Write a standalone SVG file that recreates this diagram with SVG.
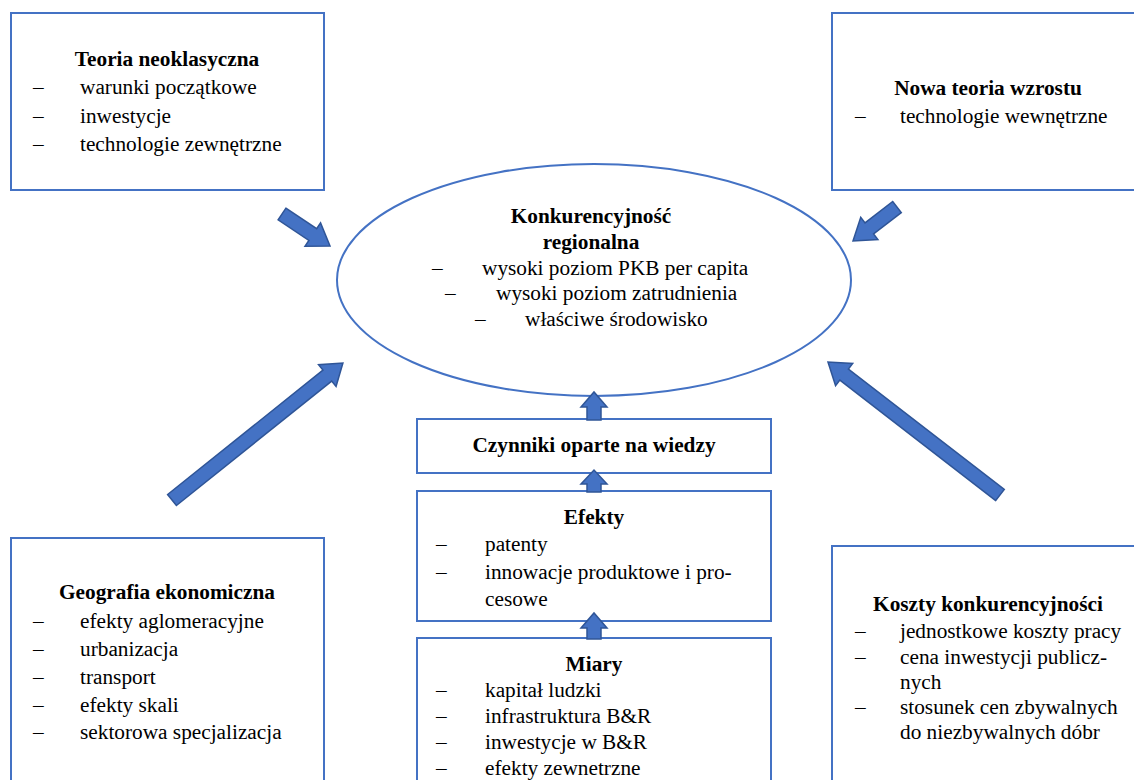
<svg xmlns="http://www.w3.org/2000/svg" width="1134" height="780" viewBox="0 0 1134 780">
  <style>
    .box { fill: #ffffff; stroke: #4472C4; stroke-width: 2; }
    text { font-family: 'Liberation Serif', 'Times New Roman', serif; font-size: 21.3px; fill: #000000; }
    .b { font-weight: bold; }
    .c { text-anchor: middle; }
    .arrow { fill: #4472C4; stroke: #2F5597; stroke-width: 1.5; stroke-linejoin: miter; }
  </style>
  <rect width="1134" height="780" fill="#ffffff"/>

  <g id="teoria-neoklasyczna">
    <rect class="box" x="11" y="13" width="313" height="177"/>
    <text class="b c" x="167" y="66">Teoria neoklasyczna</text>
    <text x="33" y="94">–</text><text x="80" y="94">warunki początkowe</text>
    <text x="33" y="123">–</text><text x="80" y="123">inwestycje</text>
    <text x="33" y="151">–</text><text x="80" y="151">technologie zewnętrzne</text>
  </g>

  <g id="nowa-teoria-wzrostu">
    <rect class="box" x="832" y="13" width="310" height="177"/>
    <text class="b c" x="988" y="95">Nowa teoria wzrostu</text>
    <text x="855" y="123">–</text><text x="900" y="123">technologie wewnętrzne</text>
  </g>

  <g id="konkurencyjnosc">
    <ellipse class="box" cx="594" cy="280" rx="257" ry="116"/>
    <text class="b c" x="591" y="223">Konkurencyjność</text>
    <text class="b c" x="591" y="249">regionalna</text>
    <text x="432" y="275">–</text><text x="482" y="275">wysoki poziom PKB per capita</text>
    <text x="445" y="300">–</text><text x="496" y="300">wysoki poziom zatrudnienia</text>
    <text x="475" y="326">–</text><text x="525" y="326">właściwe środowisko</text>
  </g>

  <g id="czynniki">
    <rect class="box" x="417" y="419" width="354" height="54"/>
    <text class="b c" x="594" y="452">Czynniki oparte na wiedzy</text>
  </g>

  <g id="efekty">
    <rect class="box" x="417" y="491" width="354" height="130"/>
    <text class="b c" x="594" y="524">Efekty</text>
    <text x="436" y="551">–</text><text x="485" y="551">patenty</text>
    <text x="436" y="579">–</text><text x="485" y="579">innowacje produktowe i pro-</text>
    <text x="485" y="606">cesowe</text>
  </g>

  <g id="miary">
    <rect class="box" x="417" y="638" width="354" height="150"/>
    <text class="b c" x="594" y="671">Miary</text>
    <text x="436" y="697">–</text><text x="485" y="697">kapitał ludzki</text>
    <text x="436" y="723">–</text><text x="485" y="723">infrastruktura B&amp;R</text>
    <text x="436" y="749">–</text><text x="485" y="749">inwestycje w B&amp;R</text>
    <text x="436" y="775">–</text><text x="485" y="775">efekty zewnetrzne</text>
  </g>

  <g id="geografia-ekonomiczna">
    <rect class="box" x="11" y="538" width="313" height="250"/>
    <text class="b c" x="167" y="599">Geografia ekonomiczna</text>
    <text x="33" y="628">–</text><text x="80" y="628">efekty aglomeracyjne</text>
    <text x="33" y="656">–</text><text x="80" y="656">urbanizacja</text>
    <text x="33" y="684">–</text><text x="80" y="684">transport</text>
    <text x="33" y="712">–</text><text x="80" y="712">efekty skali</text>
    <text x="33" y="739">–</text><text x="80" y="739">sektorowa specjalizacja</text>
  </g>

  <g id="koszty-konkurencyjnosci">
    <rect class="box" x="832" y="546" width="310" height="242"/>
    <text class="b c" x="988" y="611">Koszty konkurencyjności</text>
    <text x="855" y="638">–</text><text x="900" y="638">jednostkowe koszty pracy</text>
    <text x="855" y="664">–</text><text x="900" y="664">cena inwestycji publicz-</text>
    <text x="900" y="689">nych</text>
    <text x="855" y="714">–</text><text x="900" y="714">stosunek cen zbywalnych</text>
    <text x="900" y="739">do niezbywalnych dóbr</text>
  </g>

  <g id="connectors">
    <!-- block arrows: local shape points along +x, tail at origin -->
    <polygon class="arrow" transform="translate(282 214) rotate(33.7)" points="0,-7 37,-7 37,-14 57.7,0 37,14 37,7 0,7"/>
    <polygon class="arrow" transform="translate(897 207) rotate(142.3)" points="0,-7 35,-7 35,-14 55.6,0 35,14 35,7 0,7"/>
    <polygon class="arrow" transform="translate(172 500) rotate(-38.7)" points="0,-7 199,-7 199,-14 219,0 199,14 199,7 0,7"/>
    <polygon class="arrow" transform="translate(1000 495) rotate(-142.3)" points="0,-7 197,-7 197,-14 217.4,0 197,14 197,7 0,7"/>
    <polygon class="arrow" transform="translate(594 420) rotate(-90)" points="0,-7 13,-7 13,-13 28,0 13,13 13,7 0,7"/>
    <polygon class="arrow" transform="translate(594 492) rotate(-90)" points="0,-7 8,-7 8,-13 22,0 8,13 8,7 0,7"/>
    <polygon class="arrow" transform="translate(594 639) rotate(-90)" points="0,-7 11,-7 11,-13 26,0 11,13 11,7 0,7"/>
  </g>
</svg>
